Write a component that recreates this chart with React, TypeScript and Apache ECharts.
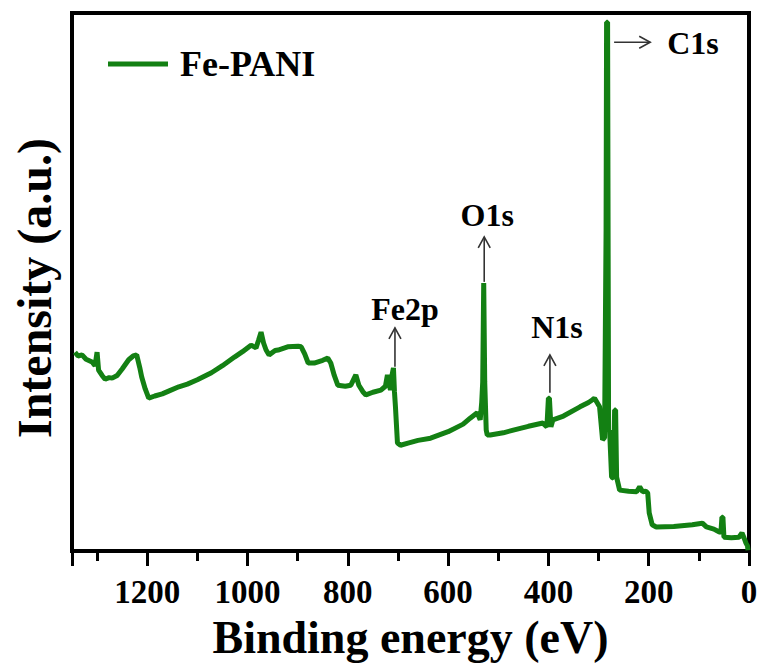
import React, { useEffect, useRef } from "react";
import * as echarts from "echarts";

// Binding energy (eV) and intensity (a.u.)
const energy = [
  1344, 1338, 1330, 1322, 1310, 1304, 1300, 1297, 1290, 1284, 1276, 1270, 1260, 1250, 1237, 1228, 1221, 1215, 1211, 1204,
  1197, 1185, 1170, 1155, 1137, 1120, 1100, 1072, 1050, 1026, 1010, 993, 983, 978, 973, 968, 963, 957, 945, 939,
  920, 899, 893, 886, 879, 867, 850, 840, 834, 827, 820, 805, 794, 784, 778, 770, 764, 750, 734, 725,
  721, 717, 715, 712, 709, 707, 705, 701, 695, 680, 660, 635, 600, 570, 556, 542, 536, 533, 531, 529,
  527, 524, 522, 516, 490, 470, 440, 411, 403, 400, 398, 395, 391, 370, 337, 320, 312, 308, 298, 292,
  288, 285, 284, 282, 281, 280, 278, 274, 270, 268, 266, 264, 258, 240, 224, 218, 212, 206, 202, 199,
  193, 185, 150, 113, 100, 93, 85, 70, 60, 56, 54, 52, 50, 35, 20, 14, 10, 6, 3, 2,
];
const intensity = [
  37.3, 36.6, 36.8, 36.0, 35.5, 34.8, 37.3, 34.0, 33.0, 32.3, 32.6, 32.5, 33.0, 34.2, 35.9, 36.6, 36.8, 34.5, 32.7, 30.5,
  28.8, 29.2, 29.6, 30.2, 30.9, 31.4, 32.2, 33.5, 34.8, 36.4, 37.4, 38.6, 38.1, 39.5, 41.0, 39.0, 37.7, 36.8, 37.6, 37.7,
  38.3, 38.4, 38.3, 37.0, 35.3, 35.3, 35.8, 36.2, 35.3, 33.0, 31.2, 31.0, 31.2, 33.1, 31.2, 30.0, 29.4, 29.9, 30.3, 31.0,
  33.1, 31.2, 30.3, 33.0, 34.4, 30.0, 27.2, 20.5, 20.1, 20.5, 21.0, 21.4, 22.6, 24.0, 25.1, 26.1, 24.8, 28.0, 31.8, 50.1,
  31.8, 22.9, 22.0, 22.0, 22.4, 22.9, 23.6, 24.2, 23.5, 28.8, 28.8, 23.5, 24.8, 25.5, 27.2, 28.0, 28.5, 28.8, 27.2, 21.1,
  21.5, 59.9, 98.3, 98.3, 60.0, 22.9, 22.9, 14.2, 14.0, 26.6, 26.6, 14.2, 11.8, 11.6, 11.5, 12.4, 11.5, 11.6, 11.3, 7.6,
  5.4, 5.0, 5.1, 5.4, 5.6, 5.7, 5.0, 4.6, 4.1, 4.0, 6.8, 6.8, 3.1, 3.0, 3.1, 3.9, 3.0, 2.0, 1.5, 0.7,
];
const seriesName = "Fe-PANI";
const xTitle = "Binding energy (eV)";
const yTitle = "Intensity (a.u.)";

// Peak annotations (in data units): arrow from -> to, label at (tx, ty)
const annotations = [
  { label: "Fe2p", dir: "up", x: 706, from: 34.6, to: 41.8, tx: 686, ty: 45.3 },
  { label: "O1s", dir: "up", x: 528, from: 50.3, to: 58.6, tx: 522, ty: 62.7 },
  { label: "N1s", dir: "up", x: 397, from: 29.8, to: 36.8, tx: 383, ty: 42.0 },
  { label: "C1s", dir: "right", y: 94.6, from: 269, to: 197, tx: 163, ty: 94.5 },
];

const FONT = '"Liberation Serif", "Times New Roman", serif';
const GREEN = "#138013";

export default function App() {
  const ref = useRef<HTMLDivElement>(null);

  useEffect(() => {
    document.body.style.margin = "0";
    if (!ref.current) return;
    const chart = echarts.init(ref.current, undefined, { renderer: "svg" });
    const lineData = energy.map((e, i) => [e, intensity[i]]);

    chart.setOption({
      animation: false,
      backgroundColor: "#fff",
      grid: {
        left: 72,
        right: 15,
        top: 13,
        bottom: 118,
        show: true,
        borderColor: "#000",
        borderWidth: 4,
        backgroundColor: "transparent",
      },
      legend: {
        data: [{ name: seriesName, icon: "rect" }],
        left: 103,
        top: 41,
        itemWidth: 60,
        itemHeight: 5,
        selectedMode: false,
        itemStyle: { color: GREEN },
        textStyle: {
          fontSize: 36,
          fontWeight: "bold",
          fontFamily: FONT,
          color: "#000",
          padding: [0, 0, 0, 7],
        },
      },
      xAxis: [
        {
          type: "value",
          min: 0,
          max: 1350,
          interval: 200,
          inverse: true,
          position: "bottom",
          name: xTitle,
          nameLocation: "middle",
          nameGap: 63,
          nameTextStyle: { fontSize: 46, fontWeight: "bold", fontFamily: FONT, color: "#000" },
          axisLine: { show: false },
          axisTick: { show: true, inside: false, length: 15, lineStyle: { color: "#000", width: 3 } },
          axisLabel: {
            margin: 24,
            fontSize: 33,
            fontWeight: "bold",
            fontFamily: FONT,
            color: "#000",
            formatter: (v: number) => (v % 200 === 0 ? String(v) : ""),
          },
          splitLine: { show: false },
        },
        {
          type: "value",
          min: 0,
          max: 1350,
          interval: 100,
          inverse: true,
          position: "bottom",
          axisLine: { show: false },
          axisTick: { show: true, inside: false, length: 10, lineStyle: { color: "#000", width: 3 } },
          axisLabel: { show: false },
          splitLine: { show: false },
        },
      ],
      yAxis: {
        type: "value",
        min: 0.55,
        max: 100,
        name: yTitle,
        nameLocation: "middle",
        nameGap: 14,
        nameRotate: 90,
        nameTextStyle: {
          fontSize: 48,
          fontWeight: "bold",
          fontFamily: FONT,
          color: "#000",
          padding: [0, 12, 0, 0],
        },
        axisLine: { show: false },
        axisTick: { show: false },
        axisLabel: { show: false },
        splitLine: { show: false },
      },
      series: [
        {
          name: seriesName,
          type: "line",
          xAxisIndex: 0,
          yAxisIndex: 0,
          data: lineData,
          showSymbol: false,
          symbol: "none",
          lineStyle: { color: GREEN, width: 5, join: "bevel" },
          itemStyle: { color: GREEN },
          z: 3,
        },
        {
          type: "custom",
          xAxisIndex: 0,
          yAxisIndex: 0,
          silent: true,
          clip: false,
          z: 10,
          data: annotations.map((a) => [a.tx, a.ty]),
          encode: { x: 0, y: 1 },
          renderItem: (params: any, api: any) => {
            const a = annotations[params.dataIndex];
            const children: any[] = [];
            const stroke = { stroke: "#333", lineWidth: 1.6, fill: "none" };
            if (a.dir === "up") {
              const b = api.coord([a.x, a.from]);
              const t = api.coord([a.x, a.to]);
              children.push({ type: "line", shape: { x1: b[0], y1: b[1], x2: t[0], y2: t[1] }, style: stroke });
              children.push({
                type: "polyline",
                shape: { points: [[t[0] - 6, t[1] + 11], [t[0], t[1]], [t[0] + 6, t[1] + 11]] },
                style: stroke,
              });
            } else {
              const s = api.coord([a.from, a.y]);
              const t = api.coord([a.to, a.y]);
              children.push({ type: "line", shape: { x1: s[0], y1: s[1], x2: t[0], y2: t[1] }, style: stroke });
              children.push({
                type: "polyline",
                shape: { points: [[t[0] - 11, t[1] - 6], [t[0], t[1]], [t[0] - 11, t[1] + 6]] },
                style: stroke,
              });
            }
            const p = api.coord([a.tx, a.ty]);
            children.push({
              type: "text",
              style: {
                text: a.label,
                x: p[0],
                y: p[1],
                align: a.dir === "up" ? "center" : "left",
                verticalAlign: "middle",
                font: `bold 32px ${FONT}`,
                fill: "#000",
              },
            });
            return { type: "group", children };
          },
        },
      ],
    });

    return () => chart.dispose();
  }, []);

  return <div ref={ref} style={{ width: 764, height: 669 }} />;
}
